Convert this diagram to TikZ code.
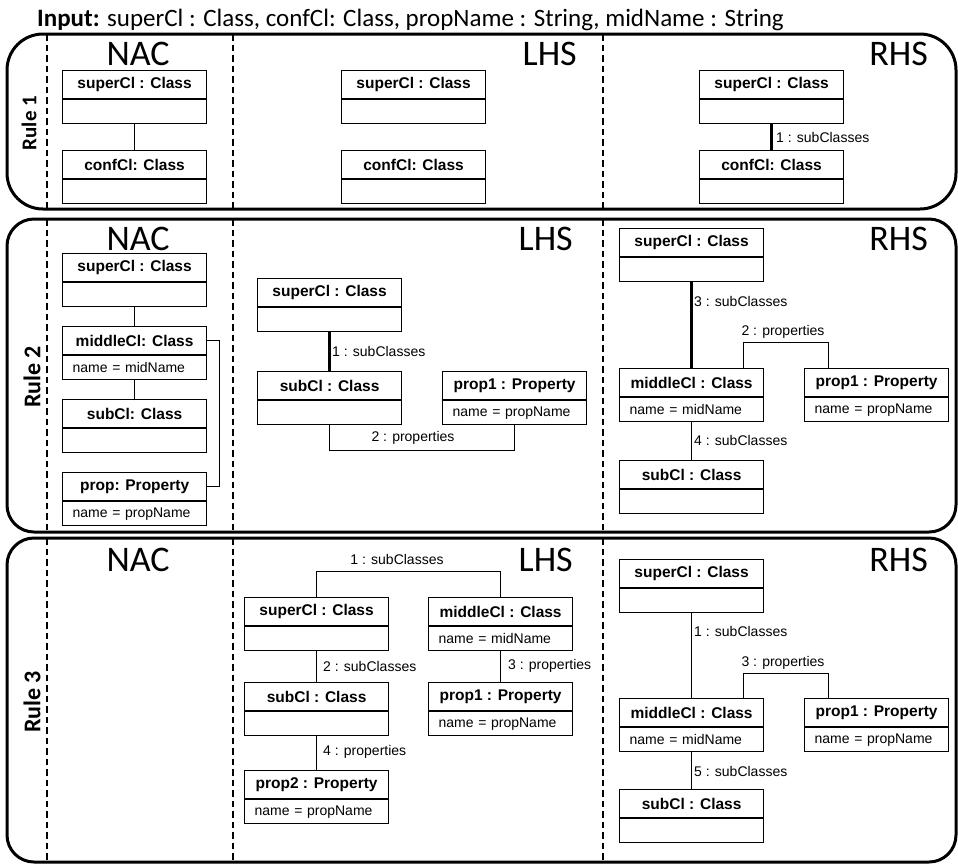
\documentclass[tikz,border=0pt]{standalone}
\usepackage{fontspec}
\setmainfont{Liberation Sans}
\newfontfamily\cfont{Carlito}
\usetikzlibrary{calc}

% fonts for object boxes and link labels
\newcommand\umlb{\fontsize{15.5}{18}\selectfont\bfseries}
\newcommand\umlr{\fontsize{14}{16}\selectfont}

\tikzset{
  objhead/.style={draw=black, line width=1.2pt, minimum width=144pt, minimum height=28pt,
    inner sep=0pt, font=\umlb},
  objbody/.style={draw=black, line width=1.2pt, minimum width=144pt, minimum height=24pt,
    inner sep=0pt, text width=124pt, align=left, font=\umlr},
  rulebox/.style={draw=black, line width=3pt},
  divider/.style={draw=black, line width=2pt, dash pattern=on 6.5pt off 4pt},
  link/.style={draw=black, line width=1pt},
  boldlink/.style={draw=black, line width=2.4pt},
  lbl/.style={font=\umlr, inner sep=0pt},
  part/.style={font=\cfont\fontsize{36}{40}\selectfont, inner sep=0pt},
  rulename/.style={font=\cfont\bfseries\fontsize{24}{28}\selectfont, rotate=90, inner sep=0pt},
}

% object box: name, x, y, title, attribute
\newcommand\umlobj[5]{%
  \node[objhead, anchor=north west] (#1) at (#2,#3) {#4};
  \node[objbody, anchor=north] (#1-b) at (#1.south) {#5};
}

\begin{document}
\begin{tikzpicture}[x=1pt, y=-1pt]
\useasboundingbox (0,0) rectangle (958,863);

% title line
\node[anchor=base west, inner sep=0pt, font=\cfont\fontsize{25}{28}\selectfont] (title) at (37,26)
  {\textbf{Input:} superCl : Class, confCl: Class, propName : String, midName : String};

% rule frames
\draw[rulebox, rounded corners=36pt] (7,34) rectangle (956,209);
\draw[rulebox, rounded corners=27pt] (7,219) rectangle (956,532);
\draw[rulebox, rounded corners=27pt] (7,538) rectangle (956,862);

% column separators
\foreach \yt/\yb in {34/209, 219/532, 538/863} {
  \draw[divider] (47,\yt) -- (47,\yb);
  \draw[divider] (233,\yt) -- (233,\yb);
  \draw[divider] (603,\yt) -- (603,\yb);
}

% rule names
\node[rulename, font=\cfont\bfseries\fontsize{21}{24}\selectfont] (rule1) at (29,123) {Rule 1};
\node[rulename] (rule2) at (32,377) {Rule 2};
\node[rulename] (rule3) at (32,702) {Rule 3};

% column headings
\foreach \r/\y in {1/54, 2/239, 3/560} {
  \node[part] (nac\r) at (138,\y) {NAC};
  \node[part, anchor=east] (rhs\r) at (928,\y) {RHS};
}
\node[part, anchor=east] (lhs1) at (577,54) {LHS};
\node[part, anchor=east] (lhs2) at (573,239) {LHS};
\node[part, anchor=east] (lhs3) at (573,560) {LHS};

% ---------------- Rule 1 ----------------
\umlobj{a1}{62}{70}{superCl : Class}{}
\umlobj{a2}{62}{150}{confCl: Class}{}
\draw[link] (a1-b.south) -- (a2.north);

\umlobj{b1}{341}{70}{superCl : Class}{}
\umlobj{b2}{341}{150}{confCl: Class}{}

\umlobj{c1}{699}{70}{superCl : Class}{}
\umlobj{c2}{699}{150}{confCl: Class}{}
\draw[boldlink] (c1-b.south) -- (c2.north);
\node[lbl, anchor=west] (lc1) at (776,137) {1 : subClasses};

% ---------------- Rule 2 ----------------
\umlobj{d1}{62}{253}{superCl : Class}{}
\umlobj{d2}{62}{326}{middleCl: Class}{name = midName}
\umlobj{d3}{62}{399}{subCl: Class}{}
\umlobj{d4}{62}{472}{prop: Property}{name = propName}
\draw[link] (d1-b.south) -- (d2.north);
\draw[link] (d2-b.south) -- (d3.north);
\draw[link] (d2.east) -- ++(12,0) |- (d4.east);

\umlobj{e1}{257}{278}{superCl : Class}{}
\umlobj{e2}{257}{371}{subCl : Class}{}
\umlobj{e3}{442}{371}{prop1 : Property}{name = propName}
\draw[boldlink] (e1-b.south) -- (e2.north);
\node[lbl, anchor=west] (le1) at (332,351) {1 : subClasses};
\draw[link] (e2-b.south) -- ++(0,25) -| (e3-b.south);
\node[lbl] (le2) at (413,438) {2 : properties};

\umlobj{f1}{619}{228}{superCl : Class}{}
\umlobj{f2}{619}{368}{middleCl : Class}{name = midName}
\umlobj{f3}{804}{368}{prop1 : Property}{name = propName}
\umlobj{f4}{619}{460}{subCl : Class}{}
\draw[boldlink] (f1-b.south) -- (f2.north);
\node[lbl, anchor=west] (lf1) at (694,301) {3 : subClasses};
\draw[link] ([xshift=-21pt]f2.north east) -- ++(0,-26) -| ([xshift=24pt]f3.north west);
\node[lbl] (lf2) at (783,332) {2 : properties};
\draw[link] (f2-b.south) -- (f4.north);
\node[lbl, anchor=west] (lf3) at (694,440) {4 : subClasses};

% ---------------- Rule 3 ----------------
\umlobj{g1}{244}{597}{superCl : Class}{}
\umlobj{g2}{244}{682}{subCl : Class}{}
\umlobj{g3}{244}{770}{prop2 : Property}{name = propName}
\umlobj{g4}{428}{597}{middleCl : Class}{name = midName}
\umlobj{g5}{428}{682}{prop1 : Property}{name = propName}
\draw[link] (g1.north) -- ++(0,-26) -| (g4.north);
\node[lbl] (lg1) at (397,559) {1 : subClasses};
\draw[link] (g1-b.south) -- (g2.north);
\node[lbl, anchor=west] (lg2) at (323,666) {2 : subClasses};
\draw[link] (g2-b.south) -- (g3.north);
\node[lbl, anchor=west] (lg4) at (323,752) {4 : properties};
\draw[link] (g4-b.south) -- (g5.north);
\node[lbl, anchor=west] (lg3) at (508,666) {3 : properties};

\umlobj{h1}{619}{559}{superCl : Class}{}
\umlobj{h2}{619}{698}{middleCl : Class}{name = midName}
\umlobj{h3}{804}{698}{prop1 : Property}{name = propName}
\umlobj{h4}{619}{789}{subCl : Class}{}
\draw[link] (h1-b.south) -- (h2.north);
\node[lbl, anchor=west] (lh1) at (694,631) {1 : subClasses};
\draw[link] ([xshift=-21pt]h2.north east) -- ++(0,-25) -| ([xshift=24pt]h3.north west);
\node[lbl] (lh2) at (783,663) {3 : properties};
\draw[link] (h2-b.south) -- (h4.north);
\node[lbl, anchor=west] (lh3) at (694,771) {5 : subClasses};

\end{tikzpicture}
\end{document}
